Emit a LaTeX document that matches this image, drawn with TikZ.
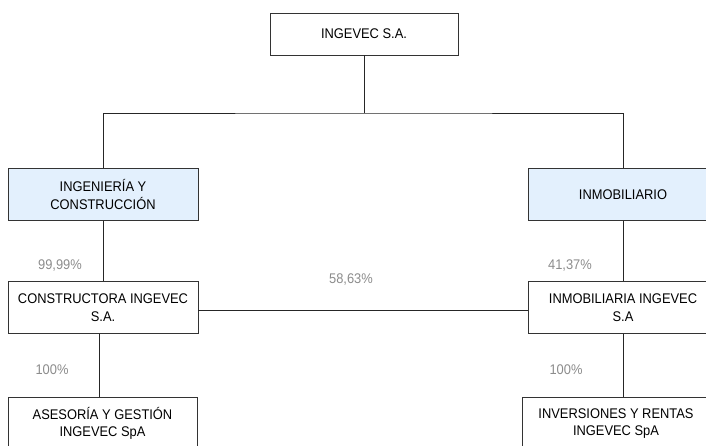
\documentclass[tikz,border=0pt]{standalone}
\usepackage{fontspec}
\setmainfont{Liberation Sans}[FakeStretch=0.92]
\definecolor{divblue}{RGB}{227,240,253}
\definecolor{sharegray}{RGB}{140,140,140}
\tikzstyle{company}=[rectangle, draw=black!80, line width=0.8pt, minimum width=190pt, minimum height=52pt, inner sep=0pt, align=center, font=\fontsize{14}{17.7}\selectfont]
\tikzstyle{division}=[company, fill=divblue]
\tikzstyle{share}=[text=sharegray, inner sep=0pt, font=\fontsize{14}{15}\selectfont]
\tikzstyle{link}=[line width=0.8pt, black!85]
\newcommand{\company}{\node[company]}
\newcommand{\division}{\node[division]}
\newcommand{\share}{\node[share]}

\begin{document}
\begin{tikzpicture}[x=1pt, y=-1pt]
\useasboundingbox (0,0) rectangle (706,446);
\company (holding) at (364,34)[minimum width=188pt, minimum height=42pt]{INGEVEC S.A.};
\division (ic) at (103,194.5){INGENIERÍA Y\\CONSTRUCCIÓN};
\division (inm) at (623,194.5){INMOBILIARIO};
\company (const) at (103,307.5){CONSTRUCTORA INGEVEC\\S.A.};
\company (inmi) at (623,307.5){INMOBILIARIA INGEVEC\\S.A};
\company (ases) at (102.5,423.5)[minimum width=189pt]{ASESORÍA Y GESTIÓN\\INGEVEC SpA};
\company (inver) at (616,423.5)[minimum width=188pt]{INVERSIONES Y RENTAS\\INGEVEC SpA};
\coordinate (bus) at (364,113);
\share (s1) at (60,266){99,99\%};
\share (s2) at (570,266){41,37\%};
\share (s3) at (351,280){58,63\%};
\share (s4) at (52,370){100\%};
\share (s5) at (566,370){100\%};
\draw[link] (holding.south) -- (bus);
\draw[link] (ic.north) |- (bus) -| (inm.north);
\draw[link] (ic.south) -- (const.north);
\draw[link] (inm.south) -- (inmi.north);
\draw[link] ([yshift=-3pt]const.east) -- ([yshift=-3pt]inmi.west);
\draw[link] ([xshift=-4pt]const.south) -- ([xshift=-4pt]const.south |- ases.north);
\draw[link] (inmi.south) -- (inmi.south |- inver.north);
\end{tikzpicture}
\end{document}
